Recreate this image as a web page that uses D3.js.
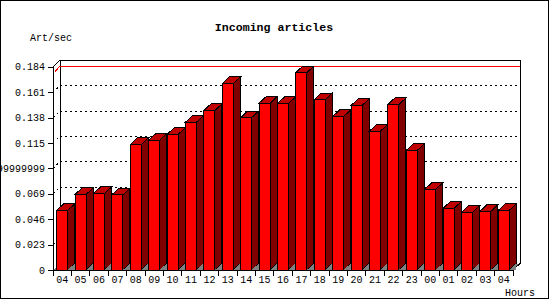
<!DOCTYPE html>
<html>
<head>
<meta charset="utf-8">
<script src="https://cdn.jsdelivr.net/npm/d3@7"></script>
<style>
  body { margin: 0; background: #fff; }
  svg { display: block; }
  text { font-family: "Liberation Mono", "DejaVu Sans Mono", monospace; }
</style>
</head>
<body>
<svg id="chart" width="550" height="300"></svg>
<script>
// hours along the bottom (the first and last are both "04")
const hours = ["04","05","06","07","08","09","10","11","12","13","14","15","16",
               "17","18","19","20","21","22","23","00","01","02","03","04"];
// articles per second
const artPerSec = [0.0540, 0.0684, 0.0693, 0.0681, 0.1136, 0.1175, 0.1227, 0.1338,
                   0.1444, 0.1688, 0.1380, 0.1510, 0.1507, 0.1787, 0.1543, 0.1390,
                   0.1489, 0.1257, 0.1498, 0.1083, 0.0730, 0.0558, 0.0522, 0.0531, 0.0540];
const yTicks = [0, 0.023, 0.046, 0.069, 0.092, 0.115, 0.138, 0.161, 0.184];
const yTickLabels = ["0", "0.023", "0.046", "0.069", "0.09199999999", "0.115", "0.138", "0.161", "0.184"];

const svg = d3.select("#chart");
const dx = 7, dy = 6.5;   // depth of the 3d box
const pLeft = 53, pRight = 513, pBottom = 270, pTop = 66.7;

const x = d3.scaleBand().domain(d3.range(hours.length)).range([pLeft, pRight]);
const y = d3.scaleLinear().domain([0, 0.184]).range([pBottom, pTop]);

// outer frame
svg.append("rect")
    .attr("x", 0.5).attr("y", 0.5).attr("width", 548).attr("height", 298)
    .attr("fill", "#fff").attr("stroke", "#000");

// titles
svg.append("text")
    .attr("x", 274).attr("y", 31)
    .attr("text-anchor", "middle")
    .attr("font-size", 11.6).attr("font-weight", "bold")
    .text("Incoming articles");
svg.append("text")
    .attr("x", 30).attr("y", 41)
    .attr("font-size", 10)
    .text("Art/sec");
svg.append("text")
    .attr("x", 505).attr("y", 296)
    .attr("font-size", 10)
    .text("Hours");

const g = svg.append("g").attr("shape-rendering", "crispEdges");

// floor
g.append("path")
    .attr("d", `M${pLeft},${pBottom}L${pRight},${pBottom}L${pRight + dx},${pBottom - dy}L${pLeft + dx},${pBottom - dy}Z`)
    .attr("fill", "#808080").attr("stroke", "none");

// back wall outline
g.append("path")
    .attr("d", `M${pLeft + dx},${pBottom - dy}L${pLeft + dx},${pTop - dy}L${pRight + dx},${pTop - dy}L${pRight + dx},${pBottom - dy}L${pRight},${pBottom}`)
    .attr("fill", "none").attr("stroke", "#000");
g.append("line")
    .attr("x1", pLeft).attr("y1", pTop).attr("x2", pLeft + dx).attr("y2", pTop - dy)
    .attr("stroke", "#000");

// dotted grid lines
const grid = yTicks.filter(d => d > 0 && d < 0.184);
g.selectAll(".grid").data(grid).enter().append("path")
    .attr("d", d => `M${pLeft},${y(d)}L${pLeft + dx},${y(d) - dy}L${pRight + dx},${y(d) - dy}`)
    .attr("fill", "none").attr("stroke", "#000")
    .attr("stroke-dasharray", "2,3");

// maximum line
const maxV = d3.max(artPerSec);
g.append("path")
    .attr("d", `M${pLeft + 2},${y(maxV) - 1}L${pLeft + dx},${y(maxV) - dy}L${pRight + dx},${y(maxV) - dy}`)
    .attr("fill", "none").attr("stroke", "#ff0000");

// bars
const bw = x.bandwidth() * 0.6, off = x.bandwidth() * 0.2;
const bars = g.selectAll(".bar").data(artPerSec).enter().append("g");
bars.append("path")  // side
    .attr("d", (d, i) => {
        const x1 = x(i) + off + bw;
        return `M${x1},${y(d)}L${x1 + dx},${y(d) - dy}L${x1 + dx},${pBottom - dy}L${x1},${pBottom}Z`;
    })
    .attr("fill", "#800000").attr("stroke", "#000");
bars.append("path")  // floor shadow under the side
    .attr("d", (d, i) => {
        const x1 = x(i) + off + bw;
        return `M${x1},${pBottom}L${x1 + dx},${pBottom - dy}L${x1 + dx},${pBottom}Z`;
    })
    .attr("fill", "#808080").attr("stroke", "none");
bars.append("path")  // top
    .attr("d", (d, i) => {
        const x0 = x(i) + off;
        return `M${x0},${y(d)}L${x0 + dx},${y(d) - dy}L${x0 + bw + dx},${y(d) - dy}L${x0 + bw},${y(d)}Z`;
    })
    .attr("fill", "#c00000").attr("stroke", "#000");
bars.append("rect")  // front
    .attr("x", (d, i) => x(i) + off)
    .attr("y", d => y(d))
    .attr("width", bw)
    .attr("height", d => pBottom - y(d))
    .attr("fill", "#ff0000").attr("stroke", "#000");

// axes
const yAxis = svg.append("g")
    .attr("transform", `translate(${pLeft},0)`)
    .call(d3.axisLeft(y).tickValues(yTicks).tickFormat((d, i) => yTickLabels[i])
        .tickSize(5).tickSizeOuter(0).tickPadding(3));
yAxis.selectAll("text").attr("font-size", 10).attr("font-family", "Liberation Mono, monospace").attr("fill", "#000");
yAxis.attr("shape-rendering", "crispEdges");

const xAxis = svg.append("g")
    .attr("transform", `translate(0,${pBottom})`)
    .call(d3.axisBottom(x).tickFormat(i => hours[i]).tickSize(0).tickPadding(6));
xAxis.selectAll("text").attr("font-size", 10).attr("font-family", "Liberation Mono, monospace").attr("fill", "#000");
xAxis.attr("shape-rendering", "crispEdges");
xAxis.selectAll(".edge").data(d3.range(hours.length + 1)).enter().append("line")
    .attr("class", "edge")
    .attr("x1", i => pLeft + i * x.step()).attr("x2", i => pLeft + i * x.step())
    .attr("y1", 0).attr("y2", 6)
    .attr("stroke", "#000");
</script>
</body>
</html>
